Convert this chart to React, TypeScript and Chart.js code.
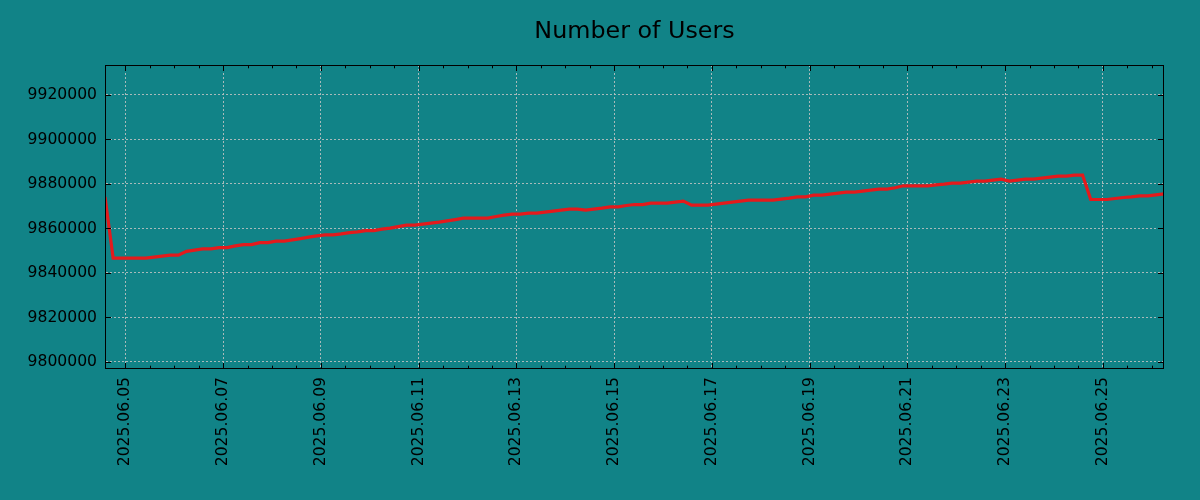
import { useEffect, useRef } from "react";
import { Chart, registerables } from "chart.js";

Chart.register(...registerables);

// ---------------- data ----------------
const TITLE = "Number of Users";
// sampling: one reading every 4 hours starting at this time (UTC)
const START_TIME = "2025-06-04T14:00:00Z";
const INTERVAL_HOURS = 4;
const REFERENCE_DAY = "2025-06-05T00:00:00Z";

const users: number[] = [
  9874200, 9846650, 9846650, 9846650, 9846650, 9846650, 9847100, 9847550,
  9848000, 9848000, 9849700, 9850250, 9850840, 9850840, 9851420, 9851420,
  9852190, 9852770, 9852770, 9853670, 9853670, 9854300, 9854300, 9854890,
  9855470, 9856100, 9856690, 9857140, 9857140, 9857590, 9858170, 9858490,
  9859070, 9859070, 9859700, 9860150, 9860870, 9861500, 9861500, 9861950,
  9862400, 9862850, 9863440, 9864020, 9864650, 9864650, 9864650, 9864650,
  9865370, 9866000, 9866450, 9866450, 9866900, 9866900, 9867350, 9867800,
  9868250, 9868700, 9868700, 9868250, 9868700, 9869150, 9869740, 9869740,
  9870320, 9870770, 9870770, 9871400, 9871400, 9871400, 9871850, 9872300,
  9870500, 9870500, 9870500, 9870950, 9871400, 9871850, 9872300, 9872750,
  9872750, 9872750, 9872750, 9873200, 9873650, 9874240, 9874240, 9875000,
  9875000, 9875450, 9875900, 9876350, 9876350, 9876800, 9877250, 9877700,
  9877700, 9878290, 9879190, 9879190, 9879190, 9879190, 9879640, 9879950,
  9880400, 9880400, 9880850, 9881300, 9881300, 9881750, 9882200, 9881300,
  9881750, 9882200, 9882200, 9882650, 9883100, 9883550, 9883550, 9884000,
  9884000, 9873110, 9873020, 9873020, 9873470, 9873920, 9874240, 9874690,
  9874690, 9875140, 9875590,
];

const Y_MIN = 9796850;
const Y_MAX = 9933480;
const Y_TICKS = [9800000, 9820000, 9840000, 9860000, 9880000, 9900000, 9920000];
const X_MAJOR_STEP_DAYS = 2;
const X_MINOR_STEP_DAYS = 0.5;

// ---------------- style ----------------
const BG = "#118387";
const LINE_COLOR = "#e41a1c";
const GRID_COLOR = "rgba(185,192,192,0.9)";
const FONT_FAMILY = "'DejaVu Sans', sans-serif";
const TICK_FONT_SIZE = 15.6;
const TITLE_FONT_SIZE = 23.8;

const DAY_MS = 86400000;
const refMs = Date.parse(REFERENCE_DAY);
const startDays = (Date.parse(START_TIME) - refMs) / DAY_MS;

const points = users.map((u, i) => ({
  x: startDays + (i * INTERVAL_HOURS) / 24,
  y: u,
}));

function fmtDay(v: number): string {
  const d = new Date(refMs + Math.round(v * 24) * 3600000);
  const mm = String(d.getUTCMonth() + 1).padStart(2, "0");
  const dd = String(d.getUTCDate()).padStart(2, "0");
  return `${d.getUTCFullYear()}.${mm}.${dd}`;
}

const titlePlugin = {
  id: "axesTitle",
  afterDraw(chart: any) {
    const { ctx, chartArea: a } = chart;
    ctx.save();
    ctx.fillStyle = "#000";
    ctx.font = `${TITLE_FONT_SIZE}px ${FONT_FAMILY}`;
    ctx.textAlign = "center";
    ctx.textBaseline = "alphabetic";
    ctx.fillText(TITLE, (a.left + a.right) / 2, 38);
    ctx.restore();
  },
};

const frameTicksPlugin = {
  id: "frameTicks",
  afterDraw(chart: any) {
    const { ctx, chartArea: a, scales } = chart;
    const xs = scales.x;
    const ys = scales.y;
    ctx.save();
    ctx.strokeStyle = "#000";
    ctx.lineWidth = 1;
    ctx.setLineDash([]);
    const L = Math.round(a.left) + 0.5;
    const T = Math.round(a.top) + 0.5;
    const R = Math.round(a.right) - 0.5;
    const B = Math.round(a.bottom) - 0.5;
    ctx.strokeRect(L, T, R - L, B - T);
    ctx.beginPath();
    const MAJ = 5.5;
    const MIN = 2.8;
    const start = Math.ceil(xs.min / X_MINOR_STEP_DAYS - 1e-9) * X_MINOR_STEP_DAYS;
    for (let v = start; v <= xs.max + 1e-9; v += X_MINOR_STEP_DAYS) {
      const r = v / X_MAJOR_STEP_DAYS;
      const major = Math.abs(r - Math.round(r)) < 1e-6;
      const len = major ? MAJ : MIN;
      const px = Math.round(xs.getPixelForValue(v)) + 0.5;
      ctx.moveTo(px, T);
      ctx.lineTo(px, T + len);
      ctx.moveTo(px, B);
      ctx.lineTo(px, B - len);
    }
    ys.ticks.forEach((t: any) => {
      const py = Math.round(ys.getPixelForValue(t.value)) + 0.5;
      ctx.moveTo(L, py);
      ctx.lineTo(L + MAJ, py);
      ctx.moveTo(R, py);
      ctx.lineTo(R - MAJ, py);
    });
    ctx.stroke();
    ctx.restore();
  },
};

export default function App() {
  const canvasRef = useRef<HTMLCanvasElement | null>(null);

  useEffect(() => {
    if (!canvasRef.current) return;
    const chart = new Chart(canvasRef.current, {
      type: "line",
      data: {
        datasets: [
          {
            data: points,
            borderColor: LINE_COLOR,
            borderWidth: 3.2,
            pointRadius: 0,
            tension: 0,
            fill: false,
            clip: 0,
          } as any,
        ],
      },
      plugins: [frameTicksPlugin, titlePlugin],
      options: {
        animation: false,
        responsive: false,
        devicePixelRatio: 1,
        layout: { padding: { left: 0, right: 36, top: 65, bottom: 0 } },
        plugins: {
          legend: { display: false },
          tooltip: { enabled: false },
          title: { display: false },
        },
        scales: {
          x: {
            type: "linear",
            min: points[0].x,
            max: points[points.length - 1].x,
            afterFit: (s: any) => {
              s.height = 131;
            },
            grid: { color: GRID_COLOR, lineWidth: 1, drawTicks: false },
            border: { display: true, color: "rgba(0,0,0,0)", width: 1, dash: [2, 2] },
            ticks: {
              stepSize: X_MAJOR_STEP_DAYS,
              includeBounds: false,
              autoSkip: false,
              minRotation: 90,
              maxRotation: 90,
              padding: 8,
              color: "#000",
              font: { family: FONT_FAMILY, size: TICK_FONT_SIZE },
              callback: (v: any) => fmtDay(Number(v)),
            },
          },
          y: {
            type: "linear",
            min: Y_MIN,
            max: Y_MAX,
            afterFit: (s: any) => {
              s.width = 105;
            },
            afterBuildTicks: (s: any) => {
              s.ticks = Y_TICKS.map((v) => ({ value: v }));
            },
            grid: { color: GRID_COLOR, lineWidth: 1, drawTicks: false },
            border: { display: true, color: "rgba(0,0,0,0)", width: 1, dash: [2, 2] },
            ticks: {
              autoSkip: false,
              padding: 8,
              color: "#000",
              font: { family: FONT_FAMILY, size: TICK_FONT_SIZE },
              callback: (v: any) => String(Math.round(Number(v))),
            },
          },
        },
      },
    } as any);
    return () => chart.destroy();
  }, []);

  return (
    <div
      style={{
        position: "fixed",
        left: 0,
        top: 0,
        width: 1200,
        height: 500,
        background: BG,
      }}
    >
      <canvas ref={canvasRef} width={1200} height={500} style={{ display: "block" }} />
    </div>
  );
}
